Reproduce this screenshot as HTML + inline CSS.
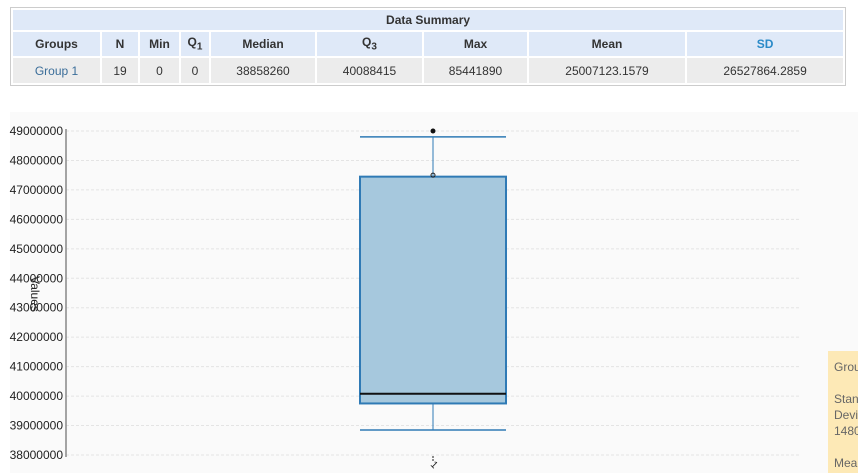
<!DOCTYPE html>
<html><head><meta charset="utf-8"><style>
html,body{margin:0;width:858px;height:473px;overflow:hidden}
body{background:#fff;font-family:"Liberation Sans",sans-serif;position:relative}
table{position:absolute;left:10px;top:7px;width:836px;border:1px solid #ccc;border-collapse:separate;border-spacing:2px;font-size:12px;color:#333;table-layout:fixed}
td,th{text-align:center;padding:0}
th{background:#dfe9f8;font-weight:bold;height:24px}
td{background:#ececec;height:25px}
.tt{position:absolute;left:828px;top:351px;width:30px;height:122px;background:#fde9b6;font-size:12px;color:#666;line-height:16px;padding:8px 0 0 6px;overflow:hidden;white-space:nowrap;box-sizing:border-box}
</style></head><body>
<table>
<colgroup><col style="width:87px"><col style="width:36px"><col style="width:39px"><col style="width:28px"><col style="width:104px"><col style="width:105px"><col style="width:103px"><col style="width:156px"><col style="width:156px"></colgroup>
<tr><th colspan="9" style="height:20px">Data Summary</th></tr>
<tr><th>Groups</th><th>N</th><th>Min</th><th>Q<sub>1</sub></th><th>Median</th><th>Q<sub>3</sub></th><th>Max</th><th>Mean</th><th style="color:#2a8ac8">SD</th></tr>
<tr><td style="color:#3a6d99">Group 1</td><td>19</td><td>0</td><td>0</td><td>38858260</td><td>40088415</td><td>85441890</td><td>25007123.1579</td><td>26527864.2859</td></tr>
</table>
<svg id="chart" width="858" height="473" style="position:absolute;left:0;top:0"></svg>
<div class="tt">Grou<br><br>Stan<br>Devi<br>1480<br><br>Mea</div>
<script>
const ticks=[38000000,39000000,40000000,41000000,42000000,43000000,44000000,45000000,46000000,47000000,48000000,49000000];
const groups=["1"];
const whiskerLow=[38850000];
const q1=[39750000];
const median=[40080000];
const q3=[47450000];
const whiskerHigh=[48800000];
const outliers=[49000000];
const markers=[47500000];
const ns="http://www.w3.org/2000/svg";
const svg=document.getElementById('chart');
const y=v=>131+(49000000-v)*(324/11000000);
const x=i=>433+i*200;
function mk(t,a,p){const e=document.createElementNS(ns,t);for(const k in a)e.setAttribute(k,a[k]);(p||svg).appendChild(e);return e;}
const bg=mk('rect',{x:10,y:112,width:848,height:361,fill:'#fafafa'});


ticks.forEach(t=>{
const g=mk('line',{x1:66,x2:800,y1:y(t),y2:y(t),stroke:'#e4e4e4','stroke-dasharray':'3,2'});


const l=mk('text',{x:63,y:y(t)+4,'text-anchor':'end','font-size':12,fill:'#222'});
l.textContent=t;


});
const ax=mk('line',{x1:66,x2:66,y1:129,y2:457,stroke:'#888','stroke-width':1.5});


const yt=mk('text',{x:0,y:0,transform:'translate(31,294) rotate(90)','text-anchor':'middle','font-size':12,fill:'#222'});
yt.textContent='Values';


groups.forEach((g,i)=>{
const cx=x(i),w=73;
const wl=mk('line',{x1:cx,x2:cx,y1:y(whiskerHigh[i]),y2:y(q3[i]),stroke:'#2f7ab5'});


const wl2=mk('line',{x1:cx,x2:cx,y1:y(q1[i]),y2:y(whiskerLow[i]),stroke:'#2f7ab5'});


const c1=mk('line',{x1:cx-w,x2:cx+w,y1:y(whiskerHigh[i]),y2:y(whiskerHigh[i]),stroke:'#2f7ab5','stroke-width':1.5});


const c2=mk('line',{x1:cx-w,x2:cx+w,y1:y(whiskerLow[i]),y2:y(whiskerLow[i]),stroke:'#2f7ab5','stroke-width':1.5});


const b=mk('rect',{x:cx-w,y:y(q3[i]),width:2*w,height:y(q1[i])-y(q3[i]),fill:'#a6c8dd',stroke:'#2f7ab5','stroke-width':2});


const m=mk('line',{x1:cx-w,x2:cx+w,y1:y(median[i]),y2:y(median[i]),stroke:'#111','stroke-width':2});


const o=mk('circle',{cx:cx,cy:y(outliers[i]),r:2.5,fill:'#111'});


const mm=mk('circle',{cx:cx,cy:y(markers[i]),r:2,fill:'none',stroke:'#222'});


const tk=mk('line',{x1:cx,x2:cx,y1:456,y2:461,stroke:'#666','stroke-width':1.5,'stroke-dasharray':'2,1'});


const xl=mk('text',{x:0,y:0,transform:`translate(${cx-3},465) rotate(45)`,'font-size':10,fill:'#222'});
xl.textContent=g;


});
</script>
</body></html>
